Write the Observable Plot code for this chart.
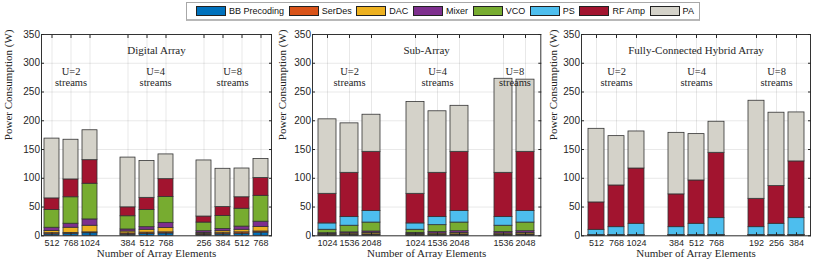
<!DOCTYPE html>
<html>
<head>
<meta charset="utf-8">
<script src="https://cdn.jsdelivr.net/npm/d3@7"></script>
<script src="https://cdn.jsdelivr.net/npm/@observablehq/plot@0.6"></script>
<style>
  html, body { margin: 0; padding: 0; background: #fff; }
  body { width: 830px; height: 269px; overflow: hidden; position: relative; font-family: "Liberation Sans", Arial, sans-serif; }
  #legend { position: absolute; left: 186px; top: 2px; width: 514px; height: 19px; box-sizing: border-box;
            border: 1px solid #a8a8a8; border-bottom: 2px solid #b8b8b8; background: #fff;
            display: flex; align-items: center; justify-content: space-between; padding: 0 5px 0 9px;
            font-size: 9px; color: #111; }
  #legend .item { display: flex; align-items: center; }
  #legend .sw { width: 30px; height: 10px; box-sizing: border-box; border: 1px solid #222; margin-right: 3px; }
  #row { position: absolute; left: 0; top: 22px; display: flex; }
  #row svg { display: block; }
  #row svg g[aria-label="text"], #row svg g[aria-label="text"] text { font-family: "Liberation Serif", "Times New Roman", serif !important; }
</style>
</head>
<body>
<div id="legend"></div>
<div id="row"></div>
<script>
// ---------- data ----------
const components = ["BB Precoding", "SerDes", "DAC", "Mixer", "VCO", "PS", "RF Amp", "PA"];
const componentColors = ["#0072BD", "#D95319", "#EDB120", "#7E2F8E", "#77AC30", "#4DBEEE", "#A2142F", "#D4D2C9"];

const digitalStreams = ["U=2", "U=2", "U=2", "U=4", "U=4", "U=4", "U=8", "U=8", "U=8", "U=8"];
const digitalElements = [512, 768, 1024, 384, 512, 768, 256, 384, 512, 768];
// rows follow the order of `components`
const digitalPower = [
  [2.5, 3.5, 4.5, 2, 3, 4, 1.5, 2.5, 3.5, 5.5],        // BB Precoding
  [2, 1.5, 1.5, 2, 2.5, 2, 1.5, 2, 2.5, 2],            // SerDes
  [4, 9, 11.5, 3.5, 5, 7.5, 2, 3.5, 4.5, 8],           // DAC
  [5.5, 7, 11, 3.5, 4.5, 9, 3, 4, 5.5, 9],             // Mixer
  [31, 46, 62, 23, 30, 45, 15, 22.5, 31, 45],          // VCO
  [0, 0, 0, 0, 0, 0, 0, 0, 0, 0],                      // PS
  [20, 31, 41, 15.5, 21, 31, 10.5, 15.5, 20, 31],      // RF Amp
  [104, 69, 52, 86.5, 64, 43, 97.5, 66.5, 50, 33]      // PA
];

const subStreams = ["U=2", "U=2", "U=2", "U=4", "U=4", "U=4", "U=8", "U=8"];
const subElements = [1024, 1536, 2048, 1024, 1536, 2048, 1536, 2048];
const subPower = [
  [0.5, 0.7, 1, 0.5, 0.7, 1, 0.7, 1],                  // BB Precoding
  [1, 1.3, 1.5, 1, 1.3, 1.5, 1.3, 1.5],                // SerDes
  [1.5, 2, 2.5, 1.5, 2, 2.5, 2, 2.5],                  // DAC
  [1.5, 2, 2.5, 2, 2.5, 3, 2.5, 3],                    // Mixer
  [6, 11.5, 15.5, 5.5, 12, 15, 11, 15],                // VCO
  [11, 15, 20, 11, 14, 20, 15, 20],                    // PS
  [51.5, 77, 103, 51.5, 77, 103, 77, 103],             // RF Amp
  [129.5, 86, 64.5, 159.5, 107, 80, 163.5, 125.5]      // PA
];

const hybridStreams = ["U=2", "U=2", "U=2", "U=4", "U=4", "U=4", "U=8", "U=8", "U=8"];
const hybridElements = [512, 768, 1024, 384, 512, 768, 192, 256, 384];
const hybridPower = [
  [0.3, 0.3, 0.3, 0.3, 0.3, 0.3, 0.3, 0.3, 0.3],       // BB Precoding
  [0.2, 0.2, 0.2, 0.2, 0.2, 0.2, 0.2, 0.2, 0.2],       // SerDes
  [0.3, 0.3, 0.3, 0.3, 0.3, 0.3, 0.3, 0.3, 0.3],       // DAC
  [0.2, 0.2, 0.2, 0.2, 0.2, 0.2, 0.2, 0.2, 0.2],       // Mixer
  [0.3, 0.3, 0.3, 0.3, 0.3, 0.3, 0.3, 0.3, 0.3],       // VCO
  [9.1, 13.7, 19.6, 13.7, 19.6, 29.4, 13.7, 19.6, 29.4],   // PS
  [47.6, 72.5, 96.1, 57, 75.3, 113.6, 49.3, 65.5, 98.6],   // RF Amp
  [128, 85.8, 64.4, 107, 80.6, 54, 170.5, 127.6, 85.2]     // PA
];

const yTicks = [0, 50, 100, 150, 200, 250, 300, 350];
const yLabel = "Power Consumption (W)";
const xLabel = "Number of Array Elements";

// ---------- legend ----------
const legend = document.getElementById("legend");
components.forEach((c, i) => {
  const item = document.createElement("div");
  item.className = "item";
  const sw = document.createElement("span");
  sw.className = "sw";
  sw.style.background = componentColors[i];
  const t = document.createElement("span");
  t.textContent = c;
  item.appendChild(sw); item.appendChild(t);
  legend.appendChild(item);
});

// ---------- panels ----------
const SERIF = "Liberation Serif";

function makePanel(cfg) {
  const {streams, elements, power} = cfg;
  const ids = elements.map((e, i) => `${streams[i]}|${e}`);
  const groups = [...new Set(streams)];
  const domain = [];
  groups.forEach((g, gi) => {
    if (gi > 0) domain.push(`gap${gi}`);
    ids.forEach((id, i) => { if (streams[i] === g) domain.push(id); });
  });
  const rows = [];
  ids.forEach((id, i) => components.forEach((c, ci) => {
    const v = power[ci][i];
    if (v > 0) rows.push({id, component: c, value: v});
  }));
  const plotW = cfg.width - cfg.marginLeft - cfg.marginRight;
  const step = plotW / domain.length;
  const labelMarks = groups.map((g, gi) => {
    const members = ids.filter((id, i) => streams[i] === g);
    const mid = Math.floor((members.length - 1) / 2);
    const shift = (members.length - 1) / 2 - mid + cfg.extraShift[gi];
    return Plot.text([{id: members[mid], text: `${g}\nstreams`}], {
      x: "id", text: "text", frameAnchor: "top", dy: 33.5, dx: shift * step,
      lineHeight: 1.0, fontFamily: SERIF, fontSize: 10.5
    });
  });

  return Plot.plot({
    width: cfg.width, height: 247,
    marginTop: 12, marginBottom: 33.7, marginLeft: cfg.marginLeft, marginRight: cfg.marginRight,
    style: {fontFamily: "Liberation Sans, Arial, sans-serif", fontSize: "10px", color: "#262626", background: "transparent"},
    x: {type: "band", domain, paddingInner: 0.2, paddingOuter: 0.1, align: 0.5},
    y: {domain: [0, 350]},
    color: {domain: components, range: componentColors},
    marks: [
      Plot.gridY(yTicks, {stroke: "#000", strokeOpacity: 0.09}),
      Plot.gridX(ids, {stroke: "#000", strokeOpacity: 0.09}),
      Plot.barY(rows, {x: "id", y: "value", fill: "component", stroke: "#333", strokeWidth: 0.8}),
      Plot.frame({stroke: "#333"}),
      Plot.axisY(yTicks, {anchor: "left", tickSize: -3, tickPadding: 4.5, label: null, fontSize: 10}),
      Plot.axisY(yTicks, {anchor: "right", tickSize: -3, tickFormat: () => "", label: null}),
      Plot.axisX(ids, {anchor: "bottom", tickSize: -3, tickPadding: 7, tickFormat: d => d.split("|")[1], label: null, fontSize: 9}),
      Plot.axisX(ids, {anchor: "top", tickSize: -3, tickFormat: () => "", label: null}),
      Plot.text([cfg.title], {text: d => d, frameAnchor: "top", dy: 12, fontFamily: SERIF, fontSize: 11}),
      ...labelMarks,
      Plot.text([yLabel], {text: d => d, frameAnchor: "left", rotate: -90, dx: cfg.yLabelDx, dy: 5, fontFamily: SERIF, fontSize: 11}),
      Plot.text([xLabel], {text: d => d, frameAnchor: "bottom", dy: 21.4, fontFamily: SERIF, fontSize: 11})
    ]
  });
}

const row = document.getElementById("row");
row.appendChild(makePanel({title: "Digital Array", streams: digitalStreams, elements: digitalElements, power: digitalPower,
  width: 276, marginLeft: 41, marginRight: 5, extraShift: [0, 0.45, 0], yLabelDx: -32.7}));
row.appendChild(makePanel({title: "Sub-Array", streams: subStreams, elements: subElements, power: subPower,
  width: 269, marginLeft: 36, marginRight: 4.7, extraShift: [0, 0, 0], yLabelDx: -30.3}));
row.appendChild(makePanel({title: "Fully-Connected Hybrid Array", streams: hybridStreams, elements: hybridElements, power: hybridPower,
  width: 285, marginLeft: 36, marginRight: 20, extraShift: [0, 0, 0], yLabelDx: -27.7}));
</script>
</body>
</html>
